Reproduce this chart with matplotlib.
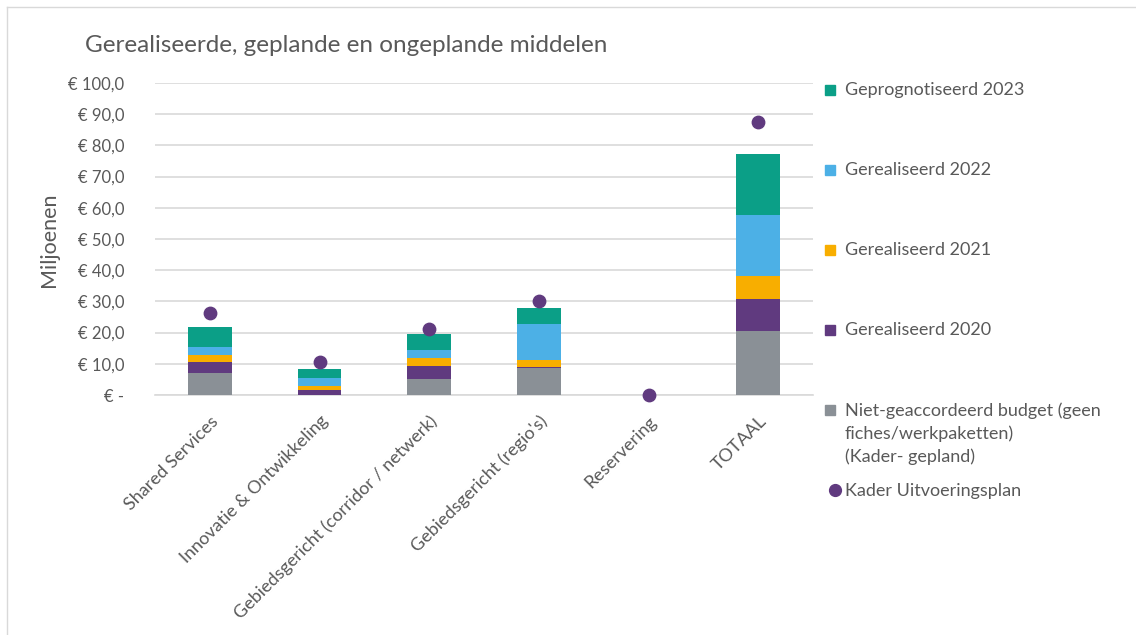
import matplotlib
matplotlib.use("Agg")
import matplotlib.pyplot as plt
from matplotlib.patches import Rectangle
from matplotlib.lines import Line2D
import numpy as np

plt.rcParams['font.family'] = ['Lato', 'DejaVu Sans']

categories = ["Shared Services", "Innovatie & Ontwikkeling",
              "Gebiedsgericht (corridor / netwerk)", "Gebiedsgericht (regio's)",
              "Reservering", "TOTAAL"]
niet_geaccordeerd = [7.0, 0.0, 5.1, 8.7, 0.0, 20.6]
gerealiseerd_2020 = [3.6, 1.6, 4.3, 0.3, 0.0, 10.1]
gerealiseerd_2021 = [2.2, 1.2, 2.3, 2.1, 0.0, 7.4]
gerealiseerd_2022 = [2.6, 2.55, 2.7, 11.8, 0.0, 19.5]
geprognotiseerd_2023 = [6.5, 2.85, 5.2, 5.1, 0.0, 19.8]
kader_uitvoeringsplan = [26.2, 10.6, 21.1, 30.0, 0.0, 87.4]

series_labels = ["Niet-geaccordeerd budget (geen\nfiches/werkpaketten)\n(Kader- gepland)",
                 "Gerealiseerd 2020", "Gerealiseerd 2021", "Gerealiseerd 2022",
                 "Geprognotiseerd 2023"]
dot_label = "Kader Uitvoeringsplan"
yticks = [0, 10, 20, 30, 40, 50, 60, 70, 80, 90, 100]
ytick_labels = ["€ -", "€ 10,0", "€ 20,0", "€ 30,0", "€ 40,0", "€ 50,0",
                "€ 60,0", "€ 70,0", "€ 80,0", "€ 90,0", "€ 100,0"]

colors = ["#8a9096", "#603a7f", "#f8ae00", "#4cb0e6", "#0b9f87"]
dot_color = "#603a7f"
text_color = "#595959"

W, H = 1136, 635
fig = plt.figure(figsize=(W / 100, H / 100), dpi=100)
ax = fig.add_axes([155 / W, 1 - 395 / H, (813 - 155) / W, (395 - 83) / H])

x = np.arange(len(categories))
series = [niet_geaccordeerd, gerealiseerd_2020, gerealiseerd_2021,
          gerealiseerd_2022, geprognotiseerd_2023]
bottom = np.zeros(len(categories))
for vals, c, lab in zip(series, colors, series_labels):
    ax.bar(x, vals, 0.4, bottom=bottom, color=c, label=lab, zorder=3)
    bottom += np.array(vals)
ax.scatter(x, kader_uitvoeringsplan, s=80, color=dot_color, zorder=4,
           label=dot_label, clip_on=False)

ax.set_xlim(-0.5, len(categories) - 0.5)
ax.set_ylim(0, 100)
ax.set_yticks(yticks)
ax.set_yticklabels(ytick_labels, fontsize=12, color=text_color)
ax.yaxis.grid(True, color="#d9d9d9", linewidth=1.2, zorder=0)
ax.tick_params(axis="y", length=0, pad=22)
ax.tick_params(axis="x", length=0, pad=13)
ax.set_xticks(x)
ax.set_xticklabels(categories, rotation=45, ha="right", va="top",
                   rotation_mode="anchor", fontsize=13, color=text_color)
for s in ["top", "right", "left"]:
    ax.spines[s].set_visible(False)
ax.spines["bottom"].set_color("#d9d9d9")
ax.spines["bottom"].set_linewidth(1.2)
fig.text(49 / W, 1 - 240 / H, "Miljoenen", fontsize=15.5, color=text_color,
         rotation=90, va="center", ha="center")

fig.text(85 / W, 1 - 46 / H, "Gerealiseerde, geplande en ongeplande middelen",
         fontsize=17.5, color=text_color, va="center", ha="left")

# legend (manual layout like Excel)
leg_y = [90, 170, 250, 330, 410]
order = list(range(len(series_labels)))[::-1]
for yy, i in zip(leg_y, order):
    fig.add_artist(Rectangle(((830 - 5) / W, 1 - (yy + 5) / H), 10 / W, 10 / H,
                             transform=fig.transFigure, color=colors[i]))
    fig.text(845 / W, 1 - (yy - 8) / H, series_labels[i], fontsize=13,
             color=text_color, va="top", ha="left", linespacing=1.5)
fig.add_artist(Line2D([835 / W], [1 - 490 / H], marker="o", markersize=8.5,
                      color=dot_color, transform=fig.transFigure))
fig.text(845 / W, 1 - 491 / H, dot_label, fontsize=13, color=text_color,
         va="center", ha="left")

# frame
fig.add_artist(Line2D([7 / W, 7 / W], [0, 1 - 7 / H], color="#d9d9d9",
                      linewidth=1, transform=fig.transFigure))
fig.add_artist(Line2D([7 / W, 1], [1 - 7 / H, 1 - 7 / H], color="#d9d9d9",
                      linewidth=1, transform=fig.transFigure))

fig.savefig("out.png", dpi=100)
